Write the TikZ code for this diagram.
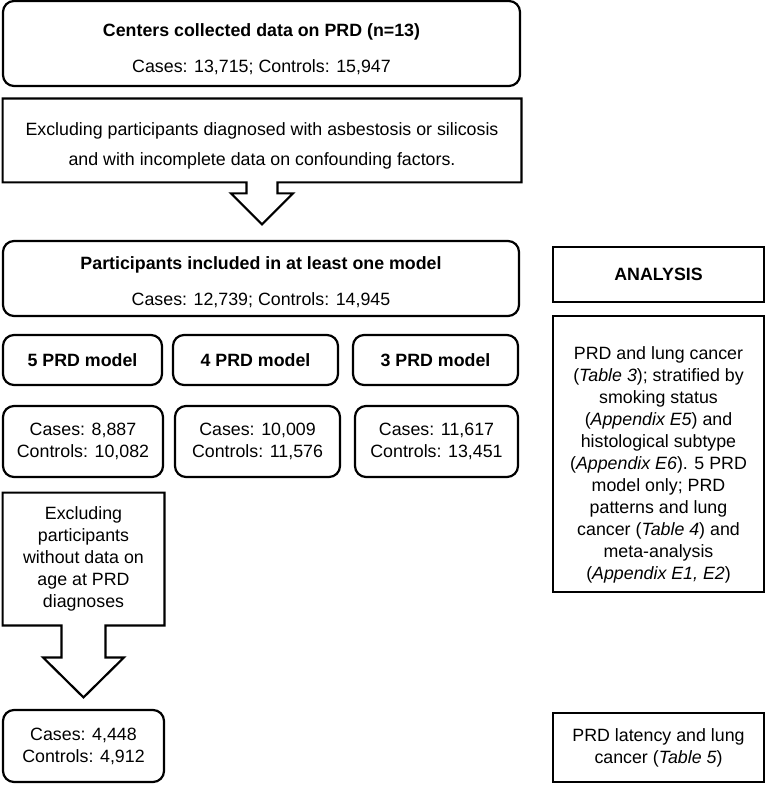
\documentclass[tikz,border=0pt]{standalone}
\usepackage{fontspec}
\setmainfont{Liberation Sans}
\usetikzlibrary{calc}

\begin{document}
\begin{tikzpicture}[x=0.5pt,y=-0.5pt]
        \tikzstyle{every node}=[font=\fontsize{8.9}{11}\selectfont, align=center, inner sep=0pt]
        \tikzstyle{roundbox}=[draw, line width=1.1pt, rounded corners=5.5pt]
        \tikzstyle{squarebox}=[draw, line width=1.1pt]
        \tikzstyle{outline}=[line width=1.1pt, line join=miter]
        \useasboundingbox (0,0) rectangle (767,785);

        % left column
        \node[roundbox, minimum width=258.5pt, minimum height=42.5pt] (centers) at (261.5,43.5)
            {\rule{0pt}{12.5pt}\textbf{Centers collected data on PRD (n=13)}\\[7pt]Cases: 13,715; Controls: 15,947};

        \node[minimum width=259pt, minimum height=41.5pt] (excl1) at (262,140.5)
            {\rule{0pt}{12pt}Excluding participants diagnosed with asbestosis or silicosis\\[4pt]and with incomplete data on confounding factors.};
        \draw[outline] (excl1.north west) -- (excl1.north east) -- (excl1.south east)
            -- ($(excl1.south)+(15.5,0)$) -- ++(0,11) -- ++(15.5,0)
            -- ($(excl1.south)+(0,42)$) -- ++(-31,-31) -- ++(15.5,0) -- ++(0,-11)
            -- (excl1.south west) -- cycle;

        \node[roundbox, minimum width=258pt, minimum height=37.5pt] (included) at (261,278.5)
            {\rule{0pt}{10.5pt}\textbf{Participants included in at least one model}\\[7pt]Cases: 12,739; Controls: 14,945};

        \node[roundbox, minimum width=79.5pt, minimum height=25pt] (model5) at (82.5,360) {\textbf{5 PRD model}};
        \node[roundbox, minimum width=82.5pt, minimum height=25pt] (model4) at (255.5,360) {\textbf{4 PRD model}};
        \node[roundbox, minimum width=82.5pt, minimum height=25pt] (model3) at (435.5,360) {\textbf{3 PRD model}};

        \node[roundbox, minimum width=80pt, minimum height=35.5pt] (count5) at (83,441.5) {Cases: 8,887\\Controls: 10,082};
        \node[roundbox, minimum width=82.5pt, minimum height=35.5pt] (count4) at (257.5,441.5) {Cases: 10,009\\Controls: 11,576};
        \node[roundbox, minimum width=81.5pt, minimum height=35.5pt] (count3) at (436.5,441.5) {Cases: 11,617\\Controls: 13,451};

        \node[minimum width=80.5pt, minimum height=66pt] (excl2) at (83.5,559)
            {Excluding\\participants\\without data on\\age at PRD\\diagnoses};
        \draw[outline] (excl2.north west) -- (excl2.north east) -- (excl2.south east)
            -- ($(excl2.south)+(22,0)$) -- ++(0,32) -- ++(18.5,0)
            -- ($(excl2.south)+(0,72)$) -- ++(-40.5,-40) -- ++(18.5,0) -- ++(0,-32)
            -- (excl2.south west) -- cycle;

        \node[roundbox, minimum width=80.5pt, minimum height=36pt] (latency) at (83.5,746) {Cases: 4,448\\Controls: 4,912};

        % right column
        \node[squarebox, minimum width=105.5pt, minimum height=27.5pt] (analysis) at (658.5,274.5) {\textbf{ANALYSIS}};

        \node[squarebox, minimum width=105.5pt, minimum height=138pt] (main) at (658.5,454)
            {\rule{0pt}{17.5pt}PRD and lung cancer\\(\textit{Table 3}); stratified by\\smoking status\\(\textit{Appendix E5}) and\\histological subtype\\(\textit{Appendix E6}). 5 PRD\\model only; PRD\\patterns and lung\\cancer (\textit{Table 4}) and\\meta-analysis\\(\textit{Appendix E1, E2})};

        \node[squarebox, minimum width=105.5pt, minimum height=34.5pt] (lat) at (658.5,747.5)
            {PRD latency and lung\\cancer (\textit{Table 5})};

    \end{tikzpicture}
\end{document}
